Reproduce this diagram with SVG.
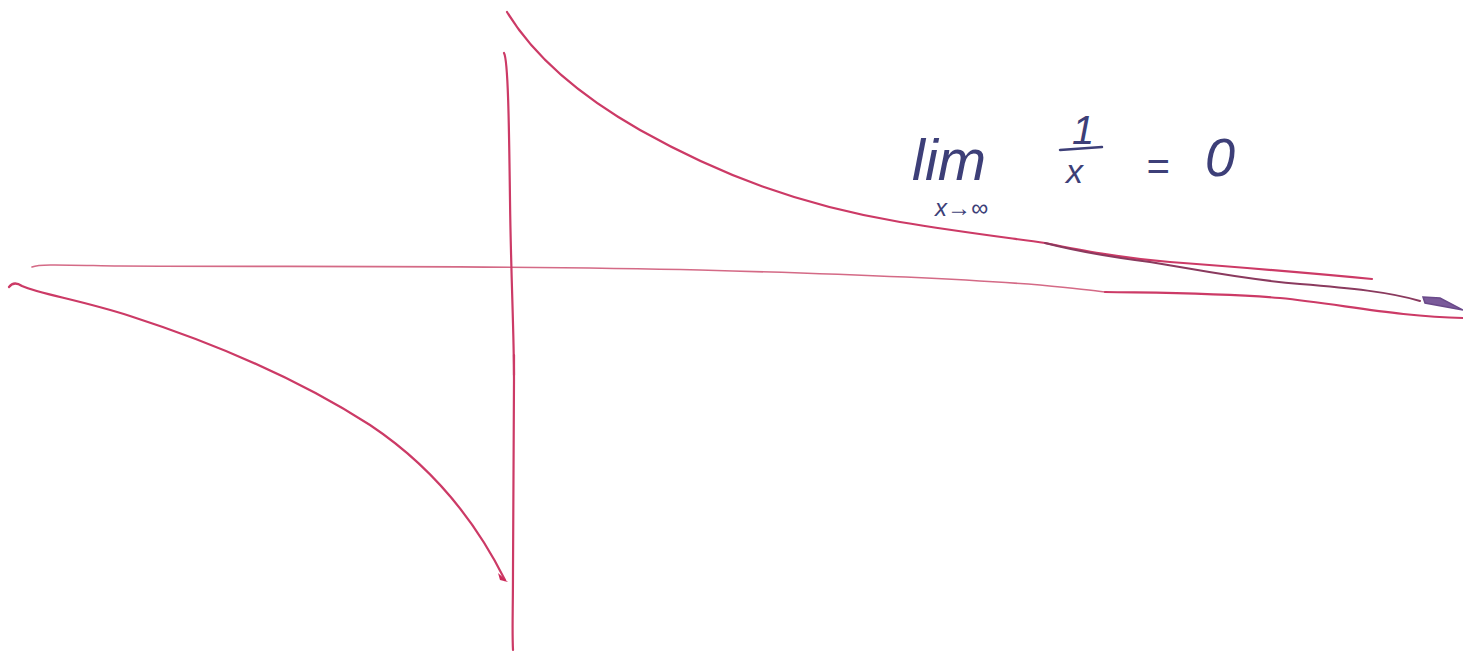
<svg xmlns="http://www.w3.org/2000/svg" width="1463" height="655" viewBox="0 0 1463 655">
<style>
.ink{fill:none;stroke:#cc3a66;stroke-width:2.2;stroke-linecap:round;stroke-linejoin:round}
.thin{fill:none;stroke:#d46a86;stroke-width:1.6;stroke-linecap:round}
.dark{fill:none;stroke:#8a3a5e;stroke-width:2;stroke-linecap:round}
.txt{font-family:"Liberation Sans",Arial,sans-serif;font-style:italic;fill:#3d3f78}
</style>
<rect width="1463" height="655" fill="#ffffff"/>
<g id="connectors">
<path id="x-axis" class="thin" d="M32,267 C40,264 60,265 120,266 C300,267 500,265 700,270 C850,274 950,278 1040,285 C1070,288 1090,290 1105,292"/>
<path id="x-axis-end" class="ink" d="M1105,292 C1160,293 1220,293 1280,298 C1340,304 1400,317 1463,318"/>
<path id="y-axis" class="ink" d="M504,53 C508,60 509,120 510,200 C511,280 514,330 514,380 C514,450 513,520 513,570 C513,610 512,630 513,650"/>
<path class="ink" stroke-width="3.5" d="M514,355 L514,375"/>
<path id="curve-right" class="ink" d="M507,12 C530,50 570,90 640,130 C720,175 800,205 900,222 C960,232 1010,238 1045,243 C1080,250 1120,258 1170,262 C1250,268 1320,274 1372,279"/>
<path id="curve-right-lower" class="dark" d="M1045,243 C1080,252 1110,257 1150,262 C1200,270 1240,279 1300,284 C1350,288 1390,292 1420,301"/>
<path id="arrowhead" fill="#7a5a9a" stroke="#6a4a8a" stroke-width="1.5" d="M1423,297 L1440,298 L1463,310 L1425,303 Z"/>
<path id="curve-left" class="ink" d="M9,287 C12,283 16,282 22,286 C40,294 80,300 130,316 C220,345 300,380 370,425 C430,465 475,520 505,580"/>
<path fill="#cc2a5a" d="M498,573 L508,582 L500,580 Z"/>
</g>
<g id="label">
<text class="txt" x="912" y="180" font-size="58">lim</text>
<text class="txt" x="1072" y="144" font-size="40">1</text>
<line x1="1060" y1="150" x2="1102" y2="147" stroke="#3d3f78" stroke-width="2.5" stroke-linecap="round"/>
<text class="txt" x="1066" y="183" font-size="34">x</text>
<text class="txt" x="1146" y="180" font-size="40">=</text>
<text class="txt" x="1205" y="176" font-size="54">0</text>
<text class="txt" x="935" y="216" font-size="24">x→∞</text>
</g>
</svg>
